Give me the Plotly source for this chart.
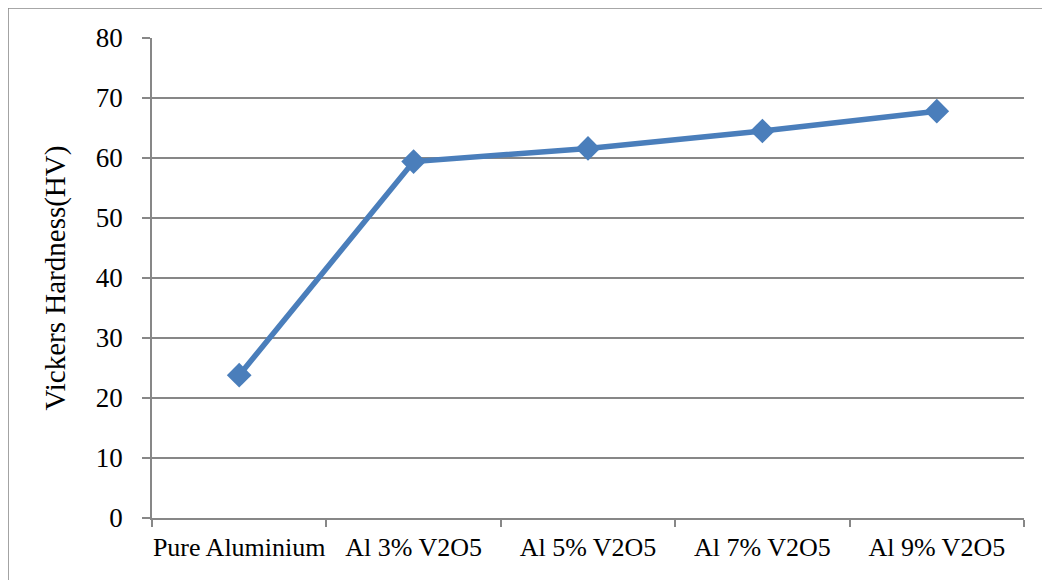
import plotly.graph_objects as go

categories = ["Pure Aluminium", "Al 3% V2O5", "Al 5% V2O5", "Al 7% V2O5", "Al 9% V2O5"]
hardness = [23.8, 59.4, 61.6, 64.5, 67.8]
y_ticks = [0, 10, 20, 30, 40, 50, 60, 70, 80]

FONT = "Liberation Serif"
GRID = "#878787"

fig = go.Figure()
fig.add_trace(go.Scatter(
    x=categories, y=hardness, mode="lines+markers",
    line=dict(color="#4a7ebb", width=5.5),
    marker=dict(symbol="diamond", size=19, color="#4a7ebb"),
    showlegend=False,
))

fig.update_layout(
    width=1042, height=572,
    margin=dict(l=144, r=26, t=30, b=62),
    paper_bgcolor="white", plot_bgcolor="white",
    font=dict(family=FONT, size=26, color="black"),
    xaxis=dict(
        type="category", tickson="boundaries",
        showline=True, linecolor=GRID, linewidth=1.5,
        ticks="outside", ticklen=7, tickcolor=GRID, tickwidth=1.5,
        showgrid=False, range=[-0.5, 4.5],
        tickfont=dict(family=FONT, size=26),
        tickangle=0, automargin=False,
        ticklabelstandoff=5,
    ),
    yaxis=dict(
        range=[0, 80], tickvals=y_ticks,
        showline=True, linecolor=GRID, linewidth=1.5,
        ticks="outside", ticklen=8, tickcolor=GRID, tickwidth=1.5,
        showgrid=True, gridcolor=GRID, gridwidth=1.5,
        zeroline=False, automargin=False,
        tickfont=dict(family=FONT, size=27),
        ticklabelstandoff=14,
        title=dict(text="Vickers Hardness(HV)", font=dict(family=FONT, size=29), standoff=22),
    ),
    shapes=[
        dict(type="line", xref="paper", yref="paper", x0=-0.1651, x1=-0.1651, y0=1.0625, y1=-0.2,
             line=dict(color="#8a8a8a", width=1.5)),
        dict(type="line", xref="paper", yref="paper", x0=-0.1651, x1=1.05, y0=1.0625, y1=1.0625,
             line=dict(color="#8a8a8a", width=1.5)),
    ],
)

fig.write_html("out.html")
